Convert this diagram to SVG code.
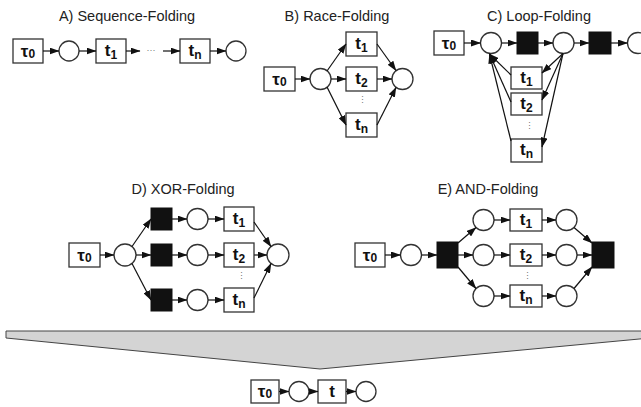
<svg xmlns="http://www.w3.org/2000/svg" width="641" height="407" viewBox="0 0 641 407">
<style>
.title{font-family:"Liberation Sans",Arial,sans-serif;font-size:14.5px;fill:#222;text-anchor:middle}
.box{fill:#fff;stroke:#333;stroke-width:1.3}
.blk{fill:#111;stroke:#111;stroke-width:1}
.pl{fill:#fff;stroke:#333;stroke-width:1.3}
.lbl{font-family:"Liberation Sans",Arial,sans-serif;font-size:17px;font-weight:bold;fill:#111;text-anchor:middle}
.sub{font-size:12px}
.dots{font-family:"Liberation Sans",Arial,sans-serif;font-size:9px;fill:#777;text-anchor:middle}
.arc{stroke:#111;stroke-width:1.2;fill:none;marker-end:url(#ah)}
</style>
<defs>
<marker id="ah" markerUnits="userSpaceOnUse" markerWidth="10" markerHeight="7" refX="9.5" refY="3.5" orient="auto">
<path d="M0,0 L10,3.5 L0,7 z" fill="#111"/>
</marker>
</defs>
<rect width="641" height="407" fill="#fff"/>

<!-- Titles -->
<text class="title" x="127" y="21">A) Sequence-Folding</text>
<text class="title" x="337" y="21">B) Race-Folding</text>
<text class="title" x="539" y="21">C) Loop-Folding</text>
<text class="title" x="183" y="194">D) XOR-Folding</text>
<text class="title" x="488" y="194">E) AND-Folding</text>

<!-- Fold shape -->
<polygon id="fold" points="6,331 650,331 650,338 320,369 6,338" fill="#d4d4d4" stroke="#444" stroke-width="1"/>

<!-- A -->
<g id="A_tau0"><rect class="box" x="13" y="39" width="30" height="24"/><text class="lbl" x="28" y="57">τ<tspan class="sub" dy="1">0</tspan></text></g>
<g id="A_p1"><circle class="pl" cx="69" cy="51" r="10"/></g>
<g id="A_t1"><rect class="box" x="96" y="39" width="30" height="24"/><text class="lbl" x="111" y="56">t<tspan class="sub" dy="3">1</tspan></text></g>
<text class="dots" x="151" y="53">···</text>
<g id="A_tn"><rect class="box" x="180" y="39" width="30" height="24"/><text class="lbl" x="195" y="56">t<tspan class="sub" dy="3">n</tspan></text></g>
<g id="A_p2"><circle class="pl" cx="236" cy="51" r="10"/></g>

<!-- B -->
<g id="B_tau0"><rect class="box" x="264" y="67" width="31" height="24"/><text class="lbl" x="279.5" y="85">τ<tspan class="sub" dy="1">0</tspan></text></g>
<g id="B_p1"><circle class="pl" cx="320.5" cy="79" r="10.5"/></g>
<g id="B_t1"><rect class="box" x="346" y="32" width="31" height="24"/><text class="lbl" x="361.5" y="49">t<tspan class="sub" dy="3">1</tspan></text></g>
<g id="B_t2"><rect class="box" x="346" y="67" width="31" height="24"/><text class="lbl" x="361.5" y="84">t<tspan class="sub" dy="3">2</tspan></text></g>
<g id="B_tn"><rect class="box" x="346" y="113" width="31" height="24"/><text class="lbl" x="361.5" y="130">t<tspan class="sub" dy="3">n</tspan></text></g>
<text class="dots" x="362" y="103">⋮</text>
<g id="B_p2"><circle class="pl" cx="402.5" cy="79" r="10.5"/></g>

<!-- C -->
<g id="C_tau0"><rect class="box" x="434" y="31" width="30" height="24"/><text class="lbl" x="449" y="49">τ<tspan class="sub" dy="1">0</tspan></text></g>
<g id="C_p1"><circle class="pl" cx="491" cy="43" r="10.5"/></g>
<g id="C_b1"><rect class="blk" x="517" y="32" width="21" height="22"/></g>
<g id="C_p2"><circle class="pl" cx="563.5" cy="43" r="10.5"/></g>
<g id="C_b2"><rect class="blk" x="589" y="32" width="22" height="22"/></g>
<g id="C_p3"><circle class="pl" cx="638" cy="43" r="10.5"/></g>
<g id="C_t1"><rect class="box" x="511" y="67" width="31" height="22"/><text class="lbl" x="526.5" y="83">t<tspan class="sub" dy="3">1</tspan></text></g>
<g id="C_t2"><rect class="box" x="511" y="93" width="31" height="22"/><text class="lbl" x="526.5" y="109">t<tspan class="sub" dy="3">2</tspan></text></g>
<g id="C_tn"><rect class="box" x="511" y="139" width="31" height="23"/><text class="lbl" x="526.5" y="155">t<tspan class="sub" dy="3">n</tspan></text></g>
<text class="dots" x="529" y="129">⋮</text>

<!-- D -->
<g id="D_tau0"><rect class="box" x="69" y="243" width="31" height="24"/><text class="lbl" x="84.5" y="261">τ<tspan class="sub" dy="1">0</tspan></text></g>
<g id="D_p0"><circle class="pl" cx="125" cy="255" r="11"/></g>
<g id="D_b1"><rect class="blk" x="151" y="208" width="21" height="22"/></g>
<g id="D_b2"><rect class="blk" x="151" y="244" width="21" height="22"/></g>
<g id="D_b3"><rect class="blk" x="151" y="289" width="21" height="22"/></g>
<g id="D_p1"><circle class="pl" cx="197.5" cy="219" r="10.5"/></g>
<g id="D_p2"><circle class="pl" cx="197.5" cy="255" r="10.5"/></g>
<g id="D_p3"><circle class="pl" cx="197.5" cy="300" r="10.5"/></g>
<g id="D_t1"><rect class="box" x="224" y="207" width="30" height="24"/><text class="lbl" x="239" y="224">t<tspan class="sub" dy="3">1</tspan></text></g>
<g id="D_t2"><rect class="box" x="224" y="243" width="30" height="24"/><text class="lbl" x="239" y="260">t<tspan class="sub" dy="3">2</tspan></text></g>
<g id="D_tn"><rect class="box" x="224" y="288" width="30" height="24"/><text class="lbl" x="239" y="305">t<tspan class="sub" dy="3">n</tspan></text></g>
<text class="dots" x="241" y="279">⋮</text>
<g id="D_p4"><circle class="pl" cx="278" cy="255" r="11"/></g>

<!-- E -->
<g id="E_tau0"><rect class="box" x="355" y="243" width="30" height="24"/><text class="lbl" x="370" y="261">τ<tspan class="sub" dy="1">0</tspan></text></g>
<g id="E_p0"><circle class="pl" cx="411" cy="255" r="10.5"/></g>
<g id="E_b1"><rect class="blk" x="437" y="242" width="21" height="26"/></g>
<g id="E_p1"><circle class="pl" cx="483.5" cy="220" r="10.5"/></g>
<g id="E_p2"><circle class="pl" cx="483.5" cy="255" r="10.5"/></g>
<g id="E_p3"><circle class="pl" cx="483.5" cy="296" r="10.5"/></g>
<g id="E_t1"><rect class="box" x="510" y="209" width="32" height="22"/><text class="lbl" x="526" y="225">t<tspan class="sub" dy="3">1</tspan></text></g>
<g id="E_t2"><rect class="box" x="510" y="244" width="32" height="22"/><text class="lbl" x="526" y="260">t<tspan class="sub" dy="3">2</tspan></text></g>
<g id="E_tn"><rect class="box" x="510" y="285" width="32" height="22"/><text class="lbl" x="526" y="301">t<tspan class="sub" dy="3">n</tspan></text></g>
<text class="dots" x="527" y="279">⋮</text>
<g id="E_p4"><circle class="pl" cx="566.5" cy="220" r="10.5"/></g>
<g id="E_p5"><circle class="pl" cx="566.5" cy="255" r="10.5"/></g>
<g id="E_p6"><circle class="pl" cx="566.5" cy="296" r="10.5"/></g>
<g id="E_b2"><rect class="blk" x="592" y="242" width="22" height="26"/></g>

<!-- Bottom result -->
<g id="R_tau0"><rect class="box" x="251" y="380" width="28" height="23"/><text class="lbl" x="265" y="397">τ<tspan class="sub" dy="1">0</tspan></text></g>
<g id="R_p1"><circle class="pl" cx="299" cy="391.5" r="10"/></g>
<g id="R_t"><rect class="box" x="318" y="380" width="28" height="23"/><text class="lbl" x="332" y="397">t</text></g>
<g id="R_p2"><circle class="pl" cx="366" cy="391.5" r="10"/></g>

<!-- Connectors -->
<g id="connectors">
<!-- A -->
<line class="arc" x1="43" y1="51" x2="59" y2="51"/>
<line class="arc" x1="79" y1="51" x2="96" y2="51"/>
<line class="arc" x1="126" y1="51" x2="140" y2="51"/>
<line class="arc" x1="163" y1="51" x2="180" y2="51"/>
<line class="arc" x1="210" y1="51" x2="226" y2="51"/>
<!-- B -->
<line class="arc" x1="295" y1="79" x2="310" y2="79"/>
<line class="arc" x1="327" y1="71" x2="346" y2="44"/>
<line class="arc" x1="331" y1="79" x2="346" y2="79"/>
<line class="arc" x1="327" y1="87" x2="346" y2="125"/>
<line class="arc" x1="377" y1="44" x2="396" y2="70.5"/>
<line class="arc" x1="377" y1="79" x2="392" y2="79"/>
<line class="arc" x1="377" y1="125" x2="396" y2="87.5"/>
<!-- C -->
<line class="arc" x1="464" y1="43" x2="480.5" y2="43"/>
<line class="arc" x1="501.5" y1="43" x2="517" y2="43"/>
<line class="arc" x1="538" y1="43" x2="553" y2="43"/>
<line class="arc" x1="574" y1="43" x2="589" y2="43"/>
<line class="arc" x1="611" y1="43" x2="627.5" y2="43"/>
<line class="arc" x1="563" y1="53.5" x2="542" y2="73"/>
<line class="arc" x1="563" y1="53.5" x2="542" y2="100"/>
<line class="arc" x1="563" y1="53.5" x2="542" y2="147"/>
<line class="arc" x1="511" y1="75" x2="489.5" y2="54"/>
<line class="arc" x1="511" y1="102" x2="489.5" y2="54"/>
<line class="arc" x1="511" y1="141" x2="489.5" y2="54"/>
<!-- D -->
<line class="arc" x1="100" y1="255" x2="114" y2="255"/>
<line class="arc" x1="132" y1="246.5" x2="151" y2="219"/>
<line class="arc" x1="136" y1="255" x2="151" y2="255"/>
<line class="arc" x1="132" y1="263.5" x2="151" y2="300"/>
<line class="arc" x1="172" y1="219" x2="187" y2="219"/>
<line class="arc" x1="172" y1="255" x2="187" y2="255"/>
<line class="arc" x1="172" y1="300" x2="187" y2="300"/>
<line class="arc" x1="208" y1="219" x2="224" y2="219"/>
<line class="arc" x1="208" y1="255" x2="224" y2="255"/>
<line class="arc" x1="208" y1="300" x2="224" y2="300"/>
<line class="arc" x1="254" y1="222" x2="271" y2="246.5"/>
<line class="arc" x1="254" y1="255" x2="267" y2="255"/>
<line class="arc" x1="254" y1="298" x2="271" y2="263.5"/>
<!-- E -->
<line class="arc" x1="385" y1="255" x2="400.5" y2="255"/>
<line class="arc" x1="421.5" y1="255" x2="437" y2="255"/>
<line class="arc" x1="458" y1="243" x2="476" y2="227.5"/>
<line class="arc" x1="458" y1="255" x2="473" y2="255"/>
<line class="arc" x1="458" y1="267" x2="476" y2="288.5"/>
<line class="arc" x1="494" y1="220" x2="510" y2="220"/>
<line class="arc" x1="494" y1="255" x2="510" y2="255"/>
<line class="arc" x1="494" y1="296" x2="510" y2="296"/>
<line class="arc" x1="542" y1="220" x2="556" y2="220"/>
<line class="arc" x1="542" y1="255" x2="556" y2="255"/>
<line class="arc" x1="542" y1="296" x2="556" y2="296"/>
<line class="arc" x1="574" y1="227.5" x2="592" y2="243"/>
<line class="arc" x1="577" y1="255" x2="592" y2="255"/>
<line class="arc" x1="574" y1="288.5" x2="592" y2="267"/>
<!-- Result -->
<line class="arc" x1="279" y1="391.5" x2="289" y2="391.5"/>
<line class="arc" x1="309" y1="391.5" x2="318" y2="391.5"/>
<line class="arc" x1="346" y1="391.5" x2="356" y2="391.5"/>
</g>
</svg>
